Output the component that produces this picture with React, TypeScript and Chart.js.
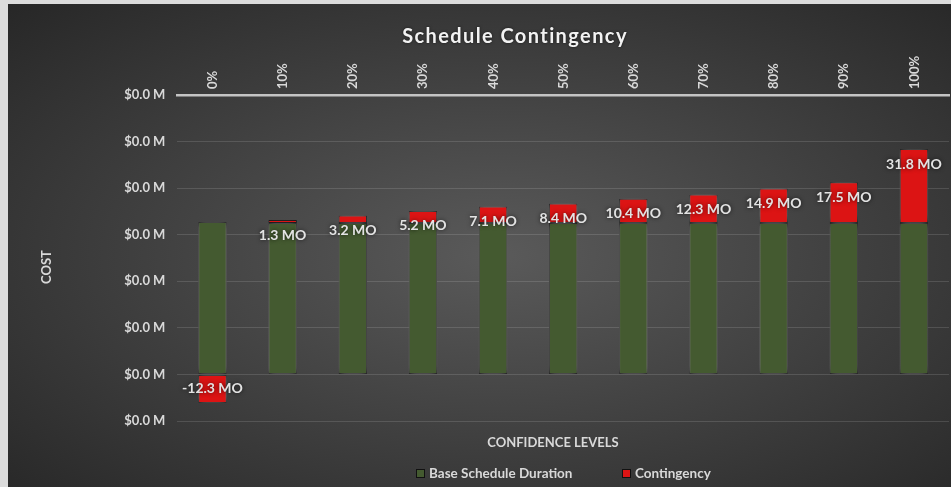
import React, { useEffect, useRef } from "react";
import { Chart, registerables } from "chart.js";

Chart.register(...registerables);

const categories = ["0%", "10%", "20%", "30%", "40%", "50%", "60%", "70%", "80%", "90%", "100%"];
const baseDuration = [65.5, 65, 65, 65, 65, 65, 65, 65, 65, 65, 65];
const contingency = [-12.3, 1.3, 3.2, 5.2, 7.1, 8.4, 10.4, 12.3, 14.9, 17.5, 31.8];
const contingencyLabels = ["-12.3 MO", "1.3 MO", "3.2 MO", "5.2 MO", "7.1 MO", "8.4 MO", "10.4 MO", "12.3 MO", "14.9 MO", "17.5 MO", "31.8 MO"];
const yTickLabel = "$0.0 M";
const titleText = "Schedule Contingency";
const xTitleText = "CONFIDENCE LEVELS";
const yTitleText = "COST";
const legendLabels = ["Base Schedule Duration", "Contingency"];

const GREEN = "#445a30";
const RED = "#dc1414";
const FONT = "Lato, 'Open Sans', sans-serif";
const TEXT = "#d9d9d9";

const CW = 1012;
const CH = 483;

export default function App() {
  const ref = useRef<HTMLCanvasElement | null>(null);

  useEffect(() => {
    const canvas = ref.current;
    if (!canvas) return;

    const decor = {
      id: "decor",
      beforeDatasetsDraw(chart: any) {
        const ctx = chart.ctx;
        ctx.save();
        ctx.shadowColor = "rgba(220,220,220,0.6)";
        ctx.shadowBlur = 7;
      },
      afterDatasetsDraw(chart: any) {
        const ctx = chart.ctx;
        ctx.restore();
        const meta = chart.getDatasetMeta(1);
        ctx.save();
        ctx.font = `bold 14px ${FONT}`;
        ctx.fillStyle = "#e3e3e3";
        ctx.textAlign = "center";
        ctx.textBaseline = "middle";
        ctx.shadowColor = "rgba(0,0,0,0.7)";
        ctx.shadowBlur = 4;
        meta.data.forEach((el: any, i: number) => {
          const v = contingency[i];
          const y = el.y + (v >= 0 ? 15 : -15);
          ctx.fillText(contingencyLabels[i], el.x, y);
        });
        ctx.restore();
      },
      afterDraw(chart: any) {
        const ctx = chart.ctx;
        ctx.save();
        // title
        ctx.font = `bold 20px ${FONT}`;
        (ctx as any).letterSpacing = "1.4px";
        ctx.fillStyle = "#f2f2f2";
        ctx.textAlign = "center";
        ctx.textBaseline = "middle";
        ctx.shadowColor = "rgba(0,0,0,0.6)";
        ctx.shadowBlur = 3;
        ctx.fillText(titleText, CW / 2 + 1, 33);
        (ctx as any).letterSpacing = "0px";
        ctx.shadowBlur = 0;
        // x title
        ctx.font = `bold 13px ${FONT}`;
        ctx.fillStyle = TEXT;
        ctx.fillText(xTitleText, 545, 439);
        // y title
        ctx.save();
        ctx.translate(39, 263);
        ctx.rotate(-Math.PI / 2);
        ctx.fillText(yTitleText, 0, 0);
        ctx.restore();
        // legend
        ctx.font = `bold 13.5px ${FONT}`;
        ctx.textAlign = "left";
        const items = [
          { x: 408, color: GREEN, label: legendLabels[0] },
          { x: 614, color: RED, label: legendLabels[1] },
        ];
        items.forEach((it) => {
          ctx.fillStyle = it.color;
          ctx.fillRect(it.x, 465, 9, 9);
          ctx.strokeStyle = "#111";
          ctx.lineWidth = 1;
          ctx.strokeRect(it.x + 0.5, 465.5, 8, 8);
          ctx.fillStyle = TEXT;
          ctx.fillText(it.label, it.x + 13, 470);
        });
        ctx.restore();
      },
    };

    const chart = new Chart(canvas, {
      type: "bar",
      data: {
        labels: categories,
        datasets: [
          {
            label: legendLabels[0],
            data: baseDuration,
            backgroundColor: GREEN,
            borderColor: "#151515",
            borderWidth: 1,
            borderSkipped: false,
            barPercentage: 0.406,
            categoryPercentage: 1,
          },
          {
            label: legendLabels[1],
            data: contingency,
            backgroundColor: RED,
            borderColor: "#151515",
            borderWidth: 1,
            borderSkipped: false,
            barPercentage: 0.406,
            categoryPercentage: 1,
          },
        ],
      },
      options: {
        responsive: false,
        animation: false,
        devicePixelRatio: 1,
        layout: { padding: { left: 0, right: 71, top: 0, bottom: 66 } },
        plugins: {
          legend: { display: false },
          title: { display: false },
          tooltip: { enabled: false },
        },
        scales: {
          x: {
            position: "top",
            stacked: true,
            grid: { display: false, drawTicks: false },
            border: { display: true, color: "#c4c4c4", width: 2.5, dash: [2, 1] },
            ticks: {
              minRotation: 90,
              maxRotation: 90,
              padding: 6,
              labelOffset: 16,
              color: TEXT,
              font: { family: FONT, size: 13, weight: "bold" },
            },
            afterFit: (scale: any) => {
              scale.height = 91;
            },
          },
          y: {
            stacked: true,
            min: -20,
            max: 120,
            ticks: {
              stepSize: 20,
              padding: 12,
              color: TEXT,
              font: { family: FONT, size: 13, weight: "bold" },
              callback: () => yTickLabel,
            },
            grid: { color: "rgba(255,255,255,0.13)", lineWidth: 1, drawTicks: false },
            border: { display: false },
            afterFit: (scale: any) => {
              scale.width = 169.4;
            },
          },
        },
      },
      plugins: [decor],
    } as any);

    return () => chart.destroy();
  }, []);

  return (
    <div style={{ position: "fixed", left: 0, top: 0, width: "100vw", height: "100vh", background: "#dcdcdc", overflow: "hidden" }}>
      <div
        style={{
          position: "absolute",
          left: 8,
          top: 4,
          width: 943,
          height: CH,
          overflow: "hidden",
          background: "radial-gradient(ellipse farthest-corner at 52% 52%, #5a5a5a 0%, #272727 100%)",
        }}
      >
        <canvas ref={ref} width={CW} height={CH} style={{ width: CW, height: CH, display: "block" }} />
      </div>
    </div>
  );
}
